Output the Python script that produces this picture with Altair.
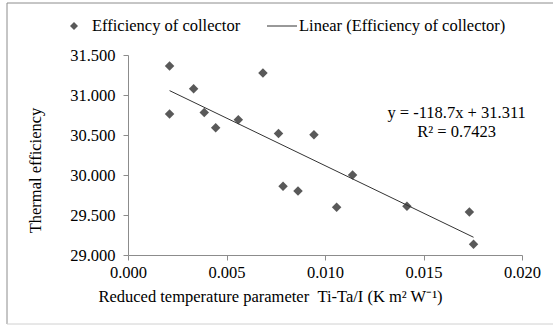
import altair as alt
import pandas as pd

# Data
reduced_temp = [0.00211, 0.00211, 0.00333, 0.00387, 0.00445, 0.00560, 0.00685, 0.00764,
                0.00787, 0.00863, 0.00944, 0.01059, 0.01140, 0.01416, 0.01733, 0.01754]
efficiency = [31.362, 30.762, 31.079, 30.780, 30.590, 30.690, 31.275, 30.520,
              29.860, 29.800, 30.504, 29.596, 30.000, 29.609, 29.537, 29.134]
x_ticks = [0.000, 0.005, 0.010, 0.015, 0.020]
y_ticks = [29.0, 29.5, 30.0, 30.5, 31.0, 31.5]
eq_lines = ["y = -118.7x + 31.311", "R² = 0.7423"]
eq_x = [0.01668, 0.01668]
eq_y = [30.771, 30.534]
series_names = ["Efficiency of collector", "Linear (Efficiency of collector)"]

FONT = "Liberation Serif, Times New Roman, serif"
FS = 16.5
df = pd.DataFrame({"x": reduced_temp, "y": efficiency})
eq_df = pd.DataFrame({"x": eq_x, "y": eq_y, "t": eq_lines})
one = pd.DataFrame({"k": [0]})

xs = alt.Scale(domain=[0, 0.02], nice=False, zero=False)
ys = alt.Scale(domain=[29, 31.5], nice=False, zero=False)

x_axis = alt.Axis(values=x_ticks, format=".3f", grid=False, labelFlush=False,
                  labelOverlap=False, tickCount=5,
                  title="Reduced temperature parameter\u00a0\u00a0Ti-Ta/I (K m² W⁻¹)",
                  titleX=142, titleY=41, titleBaseline="middle", titleAlign="center",
                  labelPadding=4)
y_axis = alt.Axis(values=y_ticks, format=".3f", grid=False, labelFlush=False,
                  labelOverlap=False, tickCount=6,
                  title="Thermal efficiency", titleX=-93, titleY=115,
                  titleBaseline="middle", titleAlign="center", labelPadding=8)

X = alt.X("x:Q", scale=xs, axis=x_axis)
Y = alt.Y("y:Q", scale=ys, axis=y_axis)

points = alt.Chart(df).mark_point(shape="diamond", filled=True, size=90,
                                  color="#595959", opacity=1).encode(x=X, y=Y)

trend = alt.Chart(df).transform_regression("x", "y").mark_line(
    color="#333333", strokeWidth=1).encode(x=X, y=Y)

eq_text = alt.Chart(eq_df).mark_text(font=FONT, fontSize=FS, color="#000000",
                                     align="center", baseline="middle").encode(
    x=X, y=Y, text="t:N")

# Legend (decoration)
leg_sym = alt.Chart(one).mark_point(shape="diamond", filled=True, size=64,
                                    color="#595959", opacity=1).encode(
    x=alt.value(-54), y=alt.value(-29))
leg_t1 = alt.Chart(one).mark_text(font=FONT, fontSize=FS, align="left",
                                  baseline="middle", color="#000000").encode(
    x=alt.value(-36), y=alt.value(-29), text=alt.value(series_names[0]))
leg_line = alt.Chart(one).mark_rule(color="#333333", strokeWidth=1).encode(
    x=alt.value(139), x2=alt.value(169), y=alt.value(-29))
leg_t2 = alt.Chart(one).mark_text(font=FONT, fontSize=FS, align="left",
                                  baseline="middle", color="#000000").encode(
    x=alt.value(171), y=alt.value(-29), text=alt.value(series_names[1]))

# Outer frame (decoration)
frame_top = alt.Chart(one).mark_rule(color="#8c8c8c", strokeWidth=1).encode(
    x=alt.value(-121), x2=alt.value(430), y=alt.value(-52))
frame_left = alt.Chart(one).mark_rule(color="#8c8c8c", strokeWidth=1).encode(
    x=alt.value(-121), y=alt.value(-52), y2=alt.value(269))
frame_bottom = alt.Chart(one).mark_rule(color="#d0d0d0", strokeWidth=1).encode(
    x=alt.value(-121), x2=alt.value(430), y=alt.value(269))

chart = alt.layer(points, trend, eq_text, leg_sym, leg_t1, leg_line, leg_t2,
                  frame_top, frame_left, frame_bottom).properties(
    width=394, height=200,
    autosize=alt.AutoSizeParams(type="none"),
    padding={"left": 128, "top": 55, "right": 31, "bottom": 71},
    background="#ffffff",
).configure_view(stroke=None).configure_axis(
    labelFont=FONT, labelFontSize=FS, labelColor="#000000",
    titleFont=FONT, titleFontSize=FS, titleColor="#000000", titleFontWeight="normal",
    domainColor="#8c8c8c", tickColor="#8c8c8c", tickSize=5, domainWidth=1, tickWidth=1,
)

chart.save("out.html", embed_options={"renderer": "svg", "actions": False})
